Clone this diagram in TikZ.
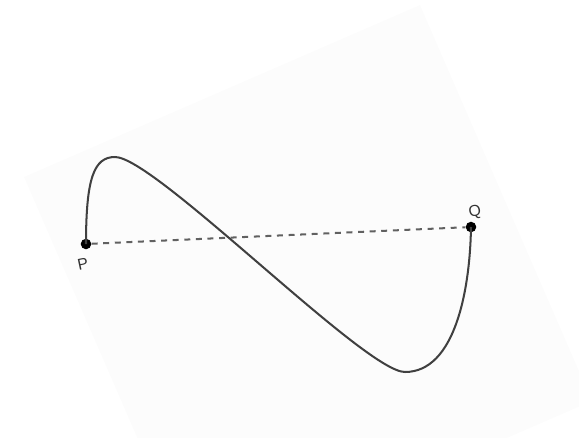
\documentclass[tikz,border=0pt]{standalone}
\usepackage{fontspec}
\setsansfont{Liberation Sans}
\usetikzlibrary{positioning}

\begin{document}
\begin{tikzpicture}[x=0.02cm, y=-0.02cm,
  dot/.style={circle, fill=black, inner sep=0pt, minimum size=6pt},
  lbl/.style={font=\sffamily\small, text=black!80, inner sep=0pt, rotate=12},
  curve/.style={draw=black!75, line width=1.15pt},
  chord/.style={draw=black!62, line width=1.15pt, dash pattern=on 3.4pt off 3.2pt}]
\useasboundingbox (0,0) rectangle (579,437);
\begin{scope}
\clip (0,0) rectangle (579,437);
\fill[black!1] (24,177) -- (420,5) -- (592,401) -- (196,573) -- cycle;
\end{scope}
\node[dot] (p) at (86,244) {};
\node[dot] (q) at (471,227) {};
\node[lbl] (pl) at (83,264) {P};
\node[lbl] (ql) at (475,212) {Q};
\coordinate (top) at (115,157);
\coordinate (bot) at (405,372);
\draw[chord] (p) -- (q);
\draw[curve] (p.center) .. controls (86,178) and (94,157) .. (top)
  .. controls (155,157) and (365,372) .. (bot)
  .. controls (455,372) and (470,290) .. (q.center);
\end{tikzpicture}
\end{document}
